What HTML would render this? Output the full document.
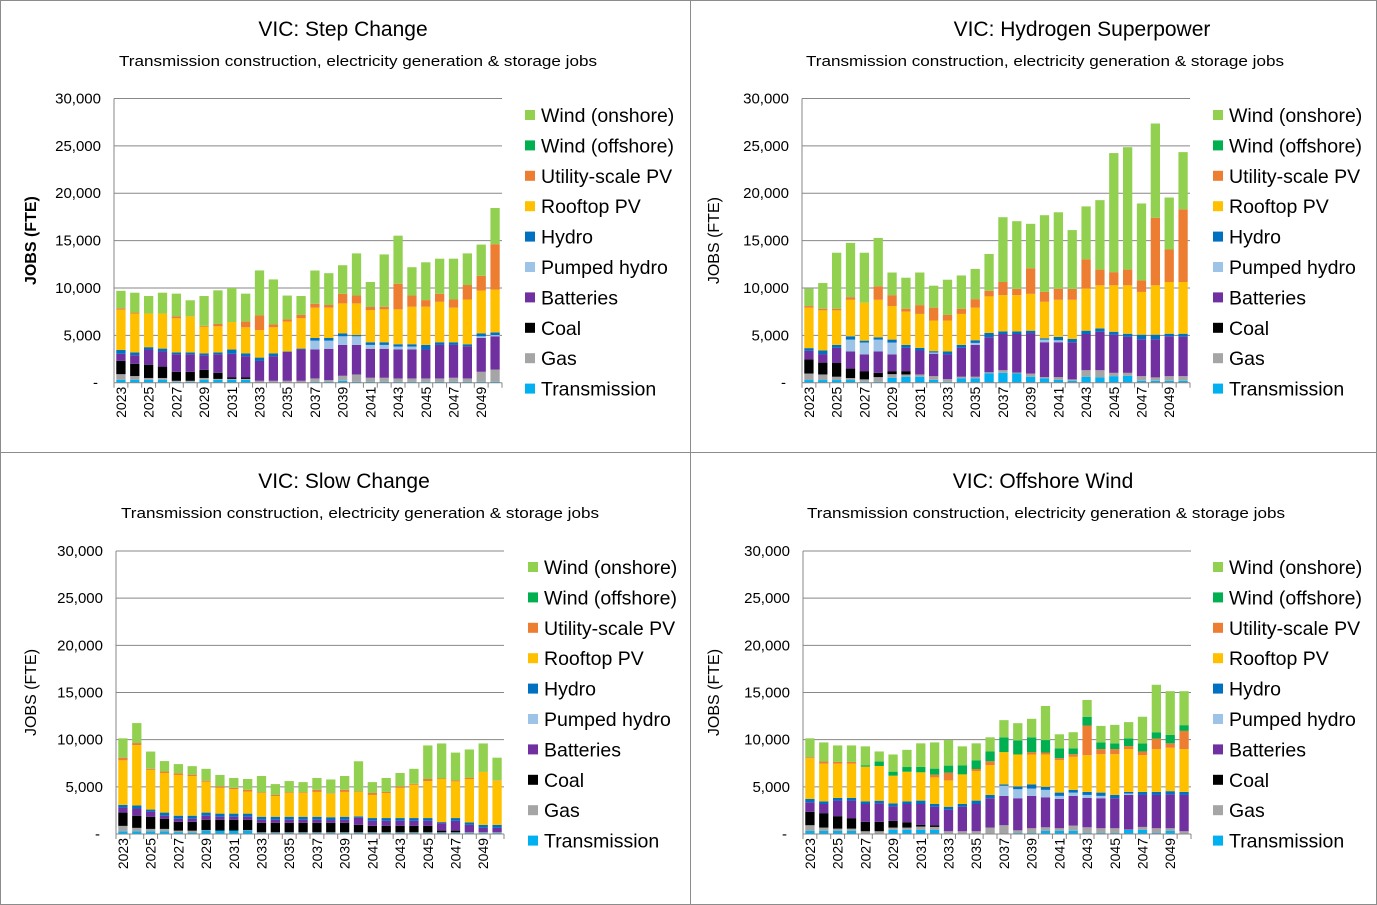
<!DOCTYPE html>
<html><head><meta charset="utf-8">
<style>
html,body{margin:0;padding:0;background:#fff;}
svg{display:block;font-family:"Liberation Sans",Arial,sans-serif;}
</style></head>
<body>
<svg id="chart" width="1377" height="905" viewBox="0 0 1377 905" xmlns="http://www.w3.org/2000/svg">
<rect x="0" y="0" width="1377" height="905" fill="#fff"/>
<g stroke="#8c8c8c" stroke-width="1" fill="none">
<rect x="0.5" y="0.5" width="690" height="452"/>
<rect x="690.5" y="0.5" width="686" height="452"/>
<rect x="0.5" y="452.5" width="690" height="452"/>
<rect x="690.5" y="452.5" width="686" height="452"/>
</g>
</svg>
<script>
const years = [2023,2024,2025,2026,2027,2028,2029,2030,2031,2032,2033,2034,2035,2036,2037,2038,2039,2040,2041,2042,2043,2044,2045,2046,2047,2048,2049,2050];
const yTicks = [0,5000,10000,15000,20000,25000,30000];
const yTickLabels = ["-","5,000","10,000","15,000","20,000","25,000","30,000"];
const seriesNames = ["Transmission","Gas","Coal","Batteries","Pumped hydro","Hydro","Rooftop PV","Utility-scale PV","Wind (offshore)","Wind (onshore)"];
const seriesColors = ["#00B0F0","#A5A5A5","#000000","#7030A0","#9DC3E6","#0070C0","#FFC000","#ED7D31","#00B050","#92D050"];

// Step Change (thousands FTE)
const stepTrans = [.3,.3,.3,.3,.1,.1,.3,.3,.3,.3,0,0,0,0,.1,.1,.2,.1,.1,.1,.1,.1,.1,.1,.1,.1,.1,.1];
const stepGas = [.6,.4,.2,.2,.1,.1,.2,.1,.1,.1,.2,.2,.2,.2,.35,.18,.53,.77,.42,.42,.35,.35,.35,.35,.42,.35,1.05,1.29];
const stepCoal = [1.4,1.3,1.4,1.2,.95,.95,.85,.65,.15,.15,0,0,0,0,0,0,0,0,0,0,0,0,0,0,0,0,0,0];
const stepBatt = [.75,.9,1.6,1.6,1.85,1.85,1.55,1.95,2.5,2.25,2.1,2.6,3.05,3.3,3.06,3.3,3.26,3.12,3.06,3.06,3.06,3.06,3.06,3.54,3.47,3.4,3.57,3.51];
const stepPumped = [0,0,0,0,0,0,0,0,0,0,0,0,0,0,.93,.86,.91,.91,.41,.41,.31,.31,0,0,0,0,.18,.13];
const stepHydro = [.4,.3,.25,.3,.2,.2,.2,.2,.45,.3,.35,.3,.05,.1,.28,.28,.31,.13,.28,.28,.24,.24,.48,.28,.28,.21,.31,.28];
const stepRooftop = [4.25,4.1,3.55,3.7,3.6,3.8,2.8,2.75,2.9,2.75,2.9,2.75,3.15,3.2,3.2,3.2,3.16,3.34,3.4,3.47,3.68,3.96,4.03,4.27,3.65,4.72,4.51,4.52];
const stepUtility = [.15,.1,0,0,.2,0,.1,.25,0,.6,1.55,.3,.25,.35,.41,.28,1.01,.83,.32,.28,2.71,1.18,.7,.84,.86,1.53,1.56,4.79];
const stepOffshore = [0,0,0,0,0,0,0,0,0,0,0,0,0,0,0,0,0,0,0,0,0,0,0,0,0,0,0,0];
const stepOnshore = [1.85,2.1,1.85,2.2,2.4,1.7,3.15,3.55,3.6,2.95,4.75,4.75,2.5,2.0,3.51,3.36,3.02,4.45,2.64,5.52,5.07,2.99,3.99,3.71,4.31,3.34,3.3,3.82];

// Hydrogen Superpower
const h2Trans = [.28,.28,.28,.28,.1,.1,.52,.63,.63,.3,.1,.45,.45,1.0,1.04,.97,.63,.45,.3,.2,.63,.56,.69,.73,.2,.2,.2,.2];
const h2Gas = [.69,.59,.35,.21,.25,.49,.38,.24,.24,.39,.28,.18,.18,.1,.28,.1,.34,.14,.29,.15,.69,.76,.35,.31,.49,.36,.49,.49];
const h2Coal = [1.5,1.25,1.45,1.0,.87,.45,.32,.35,0,0,0,0,0,0,0,0,0,0,0,0,0,0,0,0,0,0,0,0];
const h2Batt = [.9,.9,1.6,1.81,1.77,2.26,1.77,2.46,2.53,2.37,2.61,3.05,3.36,3.7,3.82,4.07,4.27,3.68,3.68,3.92,3.82,4.06,4.03,3.82,3.89,4.02,4.21,4.17];
const h2Pumped = [0,0,0,1.25,1.25,1.25,1.25,0,0,.13,0,0,.21,0,0,0,0,.28,.21,0,0,0,0,0,0,0,0,0];
const h2Hydro = [.28,.38,.31,.35,.2,.24,.31,.31,.28,.14,.31,.31,.28,.45,.28,.28,.25,.14,.35,.35,.35,.35,.31,.31,.49,.49,.27,.31];
const h2Rooftop = [4.27,4.24,3.65,3.85,4.0,3.96,3.54,3.51,3.58,3.23,3.26,3.27,3.44,3.86,3.82,3.82,3.89,3.85,3.92,4.13,4.44,4.55,4.9,5.11,4.51,5.21,5.46,5.46];
const h2Utility = [.17,.17,.17,.28,0,1.42,1.15,.31,.93,1.36,.59,.55,.9,.59,1.39,.66,2.7,1.04,1.18,1.15,3.09,1.66,1.39,1.66,1.22,7.12,3.43,7.67];
const h2Offshore = [0,0,0,0,0,0,0,0,0,0,0,0,0,0,0,0,0,0,0,0,0,0,0,0,0,0,0,0];
const h2Onshore = [1.84,2.71,5.91,5.73,5.28,5.11,2.39,3.27,3.44,2.32,3.72,3.51,3.19,3.89,6.84,7.15,4.69,8.1,8.06,6.21,5.59,7.33,12.57,12.92,8.12,9.96,5.49,6.04];

// Slow Change
const slowTrans = [.29,.29,.29,.29,.2,.15,.36,.36,.36,.36,.1,.1,.1,.1,.1,.1,.1,.1,.1,.1,.1,.1,.1,.1,.1,.1,.1,.1];
const slowGas = [.57,.36,.25,.25,.16,.2,.05,0,0,.05,.08,.08,.08,.08,.08,.08,.08,.08,.08,.08,.08,.08,.08,.08,.08,.08,.08,.08];
const slowCoal = [1.41,1.29,1.29,1.08,.93,.94,1.1,1.15,1.15,1.1,1.01,1.01,1.01,1.01,1.01,1.0,1.01,.79,.68,.68,.68,.68,.68,.18,.18,0,0,0];
const slowBatt = [.53,.76,.54,.32,.33,.33,.43,.32,.32,.32,.32,.32,.32,.32,.32,.3,.32,.76,.54,.54,.54,.54,.54,.79,1.04,.79,.47,.47];
const slowPumped = [0,0,0,0,0,0,0,0,0,0,0,0,0,0,0,0,0,0,0,0,0,0,0,0,0,0,0,0];
const slowHydro = [.29,.32,.22,.33,.32,.32,.33,.33,.33,.33,.32,.32,.32,.32,.32,.3,.32,.14,.29,.29,.29,.29,.29,.11,.29,.25,.32,.32];
const slowRooftop = [4.72,6.4,4.21,4.2,4.32,4.21,3.27,2.73,2.59,2.34,2.52,2.2,2.52,2.52,2.63,2.5,2.63,2.59,2.45,2.66,3.2,3.53,3.92,4.57,3.89,4.61,5.61,4.68];
const slowUtility = [.28,.22,.11,.15,.18,.14,.11,.15,.14,.18,.07,.11,.07,.07,.22,.05,.22,.05,.21,.11,.15,.1,.22,.05,.1,.14,0,.05];
const slowOffshore = [0,0,0,0,0,0,0,0,0,0,0,0,0,0,0,0,0,0,0,0,0,0,0,0,0,0,0,0];
const slowOnshore = [2.05,2.12,1.83,1.11,.97,.9,1.26,1.22,1.05,1.15,1.73,1.15,1.19,1.08,1.26,1.45,1.47,3.2,1.15,1.48,1.43,1.59,3.56,3.72,2.95,2.99,3.02,2.39];

// Offshore Wind
const offTrans = [.32,.32,.32,.32,0,0,.43,.43,.43,.43,0,0,0,0,0,.1,.1,.32,.32,.35,.1,.1,.1,.43,.43,.1,.32,.05];
const offGas = [.61,.36,.25,.25,.29,.29,.25,.25,.36,.32,.29,.29,.29,.68,.93,.29,.51,.39,.29,.54,.61,.51,.51,.05,.32,.51,.29,.24];
const offCoal = [1.43,1.53,1.32,1.11,1.0,1.0,.71,.57,.17,.18,0,0,0,0,0,0,0,0,0,0,0,0,0,0,0,0,0,0];
const offBatt = [1.0,.97,1.65,1.86,1.89,1.96,1.54,1.93,2.22,1.96,2.28,2.6,2.89,3.11,3.11,3.4,3.43,3.18,3.1,3.15,3.11,3.18,3.18,3.66,3.39,3.53,3.6,3.85];
const offPumped = [0,0,0,0,0,0,0,0,0,0,0,0,0,0,1.07,.96,.78,.79,.33,.35,.32,.25,0,.15,0,0,0,0];
const offHydro = [.35,.28,.28,.28,.28,.28,.32,.28,.36,.29,.32,.29,.36,.35,.14,.29,.43,.32,.35,.29,.32,.35,.35,.17,.32,.32,.33,.32];
const offRooftop = [4.33,4.0,3.64,3.64,3.68,3.68,2.93,3.14,3.0,2.82,2.79,3.14,3.14,3.15,3.43,3.39,3.18,3.43,3.43,3.5,3.9,4.07,4.32,4.54,3.9,4.54,4.6,4.54];
const offUtility = [.1,.22,.18,.18,0,0,0,0,0,.29,.82,0,.21,.42,0,0,.25,.21,.22,.28,3.14,.54,.54,.32,.39,1.11,.47,1.93];
const offOffshore = [0,0,0,0,.15,.47,.43,.5,.57,.64,.75,.97,.93,1.04,1.57,1.5,1.57,1.32,1.03,.61,.93,.71,.61,.82,.86,.68,.89,.61];
const offOnshore = [2.0,2.03,1.75,1.75,2.0,1.07,1.82,1.82,2.5,2.78,2.71,2.0,1.79,1.5,1.82,1.82,1.96,3.61,1.5,1.72,1.78,1.75,1.96,1.72,2.82,5.03,4.64,3.6];

const panels = [
  {key:"step", title:"VIC: Step Change", tx:343, ty:36, sx:358, sy:66, l:114, r:502, y0:382.7, yT:98.5, yt:"bold", ytx:36, lgx:525, lgy:115,
   data:[stepTrans,stepGas,stepCoal,stepBatt,stepPumped,stepHydro,stepRooftop,stepUtility,stepOffshore,stepOnshore]},
  {key:"hydrogen", title:"VIC: Hydrogen Superpower", tx:1082, ty:36, sx:1045, sy:66, l:802, r:1190, y0:382.7, yT:98.5, yt:"normal", ytx:719, lgx:1213, lgy:115,
   data:[h2Trans,h2Gas,h2Coal,h2Batt,h2Pumped,h2Hydro,h2Rooftop,h2Utility,h2Offshore,h2Onshore]},
  {key:"slow", title:"VIC: Slow Change", tx:344, ty:488, sx:360, sy:518, l:116, r:504, y0:834, yT:551, yt:"normal", ytx:36, lgx:528, lgy:567,
   data:[slowTrans,slowGas,slowCoal,slowBatt,slowPumped,slowHydro,slowRooftop,slowUtility,slowOffshore,slowOnshore]},
  {key:"offshore", title:"VIC: Offshore Wind", tx:1043, ty:488, sx:1046, sy:518, l:803, r:1191, y0:834, yT:551, yt:"normal", ytx:719, lgx:1213, lgy:567,
   data:[offTrans,offGas,offCoal,offBatt,offPumped,offHydro,offRooftop,offUtility,offOffshore,offOnshore]}
];

const NS = "http://www.w3.org/2000/svg";
const svg = document.getElementById("chart");
function mk(tag, attrs, parent){
  const e = document.createElementNS(NS, tag);
  for (const k in attrs) e.setAttribute(k, attrs[k]);
  parent.appendChild(e);
  return e;
}

panels.forEach(p => {
  const g = mk("g", {}, svg);
  
  
  const yScale = v => p.y0 - (v / 30000) * (p.y0 - p.yT);
  const band = (p.r - p.l) / years.length;
  const xCenter = i => p.l + (i + 0.5) * band;
  const barW = band * 0.67;

  const t = mk("text", {x:p.tx, y:p.ty, "text-anchor":"middle", "font-size":"21", fill:"#000"}, g);
  t.textContent = p.title;
  
  
  const st = mk("text", {x:p.sx, y:p.sy, "text-anchor":"middle", "font-size":"14.5", fill:"#000", textLength:"478", lengthAdjust:"spacingAndGlyphs"}, g);
  st.textContent = "Transmission construction, electricity generation & storage jobs";
  
  

  const ymid = (p.y0 + p.yT) / 2;
  const yt = mk("text", {x:p.ytx, y:ymid, "text-anchor":"middle", "font-size":"16", "font-weight":p.yt, fill:"#000", transform:"rotate(-90 "+p.ytx+" "+ymid+")"}, g);
  yt.textContent = "JOBS (FTE)";
  
  

  yTicks.forEach((v, k) => {
    const y = yScale(v);
    if (v > 0) {
      const gl = mk("line", {x1:p.l, x2:p.r, y1:y, y2:y, stroke:"#878787", "stroke-width":"1"}, g);
      
      
    }
    const lb = mk("text", {x:(v === 0 ? p.l - 16 : p.l - 13), y:y + 5, "text-anchor":"end", "font-size":"15", fill:"#000"}, g);
    lb.textContent = yTickLabels[k];
    
    
  });

  years.forEach((yr, i) => {
    let acc = 0;
    p.data.forEach((arr, s) => {
      const v = arr[i] * 1000;
      if (v <= 0) return;
      const yTop = yScale(acc + v), yBot = yScale(acc);
      const b = mk("rect", {x:xCenter(i) - barW/2, y:yTop, width:barW, height:yBot - yTop, fill:seriesColors[s]}, g);
      
      
      acc += v;
    });
  });

  const ax = mk("line", {x1:p.l, x2:p.l, y1:p.yT, y2:p.y0, stroke:"#878787", "stroke-width":"1"}, g);
  
  
  const xa = mk("line", {x1:p.l, x2:p.r, y1:p.y0, y2:p.y0, stroke:"#878787", "stroke-width":"1"}, g);
  
  
  for (let i = 0; i <= years.length; i++) {
    const x = p.l + i * band;
    const tk = mk("line", {x1:x, x2:x, y1:p.y0, y2:p.y0 + 5, stroke:"#878787", "stroke-width":"1"}, g);
    
    
  }
  years.forEach((yr, i) => {
    if (i % 2 !== 0) return;
    const cx = xCenter(i) + 5, cy = p.y0 + 4;
    const xl = mk("text", {x:cx, y:cy, "text-anchor":"end", "font-size":"14", fill:"#000", transform:"rotate(-90 "+cx+" "+cy+")"}, g);
    xl.textContent = String(yr);
    
    
  });

  for (let k = 0; k < seriesNames.length; k++) {
    const s = seriesNames.length - 1 - k;
    const y = p.lgy + k * 30.4;
    const lg = mk("g", {}, g);
    
    
    mk("rect", {x:p.lgx, y:y - 5, width:10, height:10, fill:seriesColors[s]}, lg);
    const lt = mk("text", {x:p.lgx + 16, y:y + 7, "font-size":"19.5", fill:"#000"}, lg);
    lt.textContent = seriesNames[s];
  }
});
</script>
</body></html>
